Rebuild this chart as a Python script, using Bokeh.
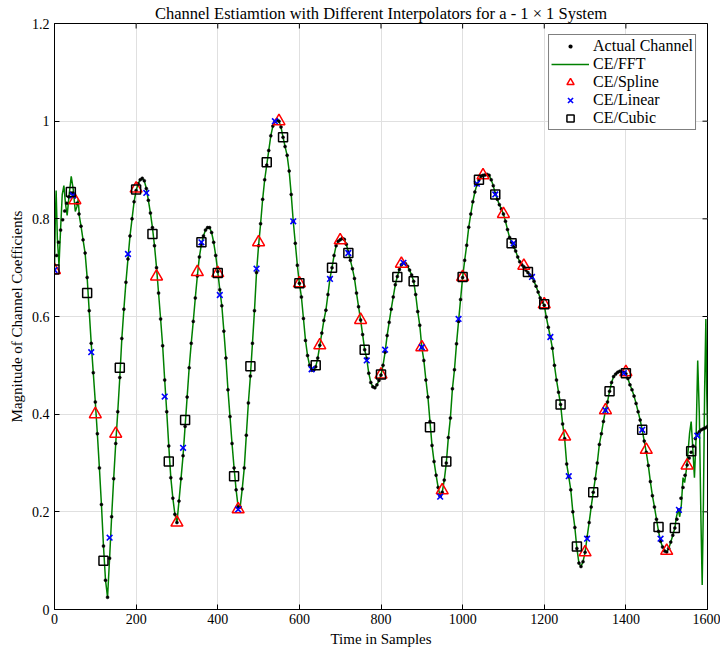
import math
from bokeh.plotting import figure
from bokeh.models import Range1d, FixedTicker, Legend, LegendItem
from bokeh.embed import file_html
from bokeh.resources import INLINE

# ---------------- data ----------------
x_ticks = [0, 200, 400, 600, 800, 1000, 1200, 1400, 1600]
x_tick_labels = ["0", "200", "400", "600", "800", "1000", "1200", "1400", "1600"]
y_ticks = [0, 0.2, 0.4, 0.6, 0.8, 1.0, 1.2]
y_tick_labels = ["0", "0.2", "0.4", "0.6", "0.8", "1", "1.2"]

# actual channel, one value every 5 samples (0 .. 1600)
actual_x = list(range(0, 1601, 5))
actual_y = [
    0.695, 0.725, 0.752, 0.777, 0.798, 0.816, 0.832, 0.845, 0.853, 0.853,
    0.845, 0.832, 0.810, 0.785, 0.757, 0.730, 0.680, 0.612, 0.545, 0.485,
    0.425, 0.360, 0.290, 0.215, 0.130, 0.060, 0.025, 0.105, 0.190, 0.268,
    0.340, 0.405, 0.475, 0.555, 0.615, 0.670, 0.718, 0.765, 0.800, 0.835,
    0.858, 0.872, 0.880, 0.883, 0.878, 0.862, 0.838, 0.812, 0.782, 0.745,
    0.700, 0.648, 0.595, 0.540, 0.470, 0.405, 0.335, 0.270, 0.228, 0.195,
    0.178, 0.222, 0.268, 0.315, 0.375, 0.435, 0.495, 0.545, 0.590, 0.638,
    0.683, 0.722, 0.748, 0.765, 0.777, 0.782, 0.782, 0.772, 0.752, 0.725,
    0.692, 0.655, 0.622, 0.570, 0.515, 0.450, 0.395, 0.340, 0.290, 0.245,
    0.210, 0.210, 0.247, 0.290, 0.357, 0.423, 0.478, 0.545, 0.612, 0.690,
    0.745, 0.790, 0.840, 0.880, 0.910, 0.940, 0.970, 0.990, 0.999, 1.003,
    1.000, 0.988, 0.967, 0.948, 0.930, 0.898, 0.850, 0.795, 0.750, 0.705,
    0.668, 0.640, 0.596, 0.551, 0.520, 0.500, 0.490, 0.490, 0.497, 0.515,
    0.541, 0.566, 0.592, 0.613, 0.645, 0.678, 0.700, 0.725, 0.745, 0.754,
    0.757, 0.760, 0.758, 0.748, 0.732, 0.715, 0.698, 0.678, 0.648, 0.620,
    0.593, 0.563, 0.532, 0.514, 0.484, 0.465, 0.456, 0.454, 0.460, 0.469,
    0.480, 0.500, 0.527, 0.561, 0.588, 0.615, 0.640, 0.665, 0.682, 0.696,
    0.706, 0.710, 0.708, 0.703, 0.695, 0.685, 0.672, 0.645, 0.610, 0.582,
    0.537, 0.510, 0.470, 0.435, 0.385, 0.336, 0.303, 0.275, 0.250, 0.232,
    0.240, 0.265, 0.300, 0.352, 0.392, 0.452, 0.491, 0.544, 0.590, 0.635,
    0.680, 0.715, 0.746, 0.783, 0.810, 0.835, 0.855, 0.870, 0.880, 0.887,
    0.889, 0.890, 0.891, 0.889, 0.880, 0.868, 0.852, 0.840, 0.829, 0.820,
    0.810, 0.795, 0.778, 0.762, 0.752, 0.743, 0.734, 0.722, 0.712, 0.706,
    0.702, 0.695, 0.690, 0.685, 0.680, 0.672, 0.662, 0.650, 0.638, 0.630,
    0.623, 0.599, 0.578, 0.558, 0.535, 0.500, 0.470, 0.445, 0.420, 0.380,
    0.350, 0.298, 0.272, 0.245, 0.200, 0.168, 0.125, 0.095, 0.088, 0.098,
    0.117, 0.148, 0.178, 0.210, 0.240, 0.268, 0.300, 0.338, 0.360, 0.385,
    0.408, 0.425, 0.447, 0.465, 0.477, 0.482, 0.486, 0.488, 0.488, 0.486,
    0.483, 0.473, 0.460, 0.450, 0.437, 0.422, 0.405, 0.388, 0.368, 0.345,
    0.322, 0.295, 0.262, 0.233, 0.210, 0.185, 0.160, 0.140, 0.128, 0.120,
    0.118, 0.125, 0.138, 0.152, 0.167, 0.185, 0.204, 0.228, 0.250, 0.275,
    0.296, 0.310, 0.322, 0.335, 0.350, 0.360, 0.364, 0.368, 0.370, 0.372,
    0.375,
]

# CE/FFT: edge ringing at both ends, follows the channel in between
fft_head_x = [0, 2, 4, 7, 11, 15, 19, 23, 27, 31, 36, 41, 46, 51, 55, 58, 61]
fft_head_y = [0.695, 0.800, 0.858, 0.760, 0.705, 0.780, 0.850, 0.868, 0.830, 0.807,
              0.850, 0.887, 0.860, 0.815, 0.825, 0.840, 0.805]
fft_tail_x = [1520, 1524, 1528, 1532, 1536, 1540, 1544, 1548, 1552, 1556, 1560, 1564,
              1568, 1572, 1576, 1580, 1584, 1587, 1590, 1593, 1596, 1598, 1600]
fft_tail_y = [0.167, 0.190, 0.205, 0.190, 0.215, 0.270, 0.260, 0.285, 0.320, 0.360,
              0.385, 0.330, 0.270, 0.350, 0.510, 0.400, 0.180, 0.050, 0.220, 0.450,
              0.595, 0.450, 0.370]

spline_x = list(range(0, 1551, 50))
spline_y = [0.695, 0.838, 0.400, 0.360, 0.862, 0.682, 0.178, 0.691, 0.689, 0.205,
            0.752, 1.000, 0.668, 0.541, 0.756, 0.593, 0.481, 0.708, 0.537, 0.244,
            0.681, 0.889, 0.810, 0.704, 0.625, 0.354, 0.117, 0.408, 0.486, 0.327,
            0.120, 0.295]

linear_x = list(range(0, 1576, 45))
linear_y = [0.695, 0.848, 0.527, 0.147, 0.728, 0.853, 0.436, 0.331, 0.752, 0.644,
            0.205, 0.698, 1.000, 0.795, 0.492, 0.677, 0.730, 0.510, 0.532, 0.710,
            0.537, 0.231, 0.595, 0.872, 0.850, 0.750, 0.681, 0.558, 0.273, 0.145,
            0.408, 0.484, 0.368, 0.145, 0.204, 0.356]

cubic_x = list(range(0, 1561, 40))
cubic_y = [0.696, 0.855, 0.648, 0.100, 0.495, 0.860, 0.769, 0.303, 0.388, 0.752,
           0.689, 0.273, 0.498, 0.916, 0.967, 0.668, 0.500, 0.700, 0.730, 0.532,
           0.481, 0.681, 0.672, 0.373, 0.303, 0.681, 0.880, 0.850, 0.750, 0.691,
           0.625, 0.420, 0.129, 0.240, 0.447, 0.484, 0.368, 0.169, 0.167, 0.324]

title_text = "Channel Estiamtion with Different Interpolators for a - 1 \u00d7 1 System"
x_label = "Time in Samples"
y_label = "Magnitude of Channel Coefficients"

# ---------------- figure ----------------
FONT = "Liberation Serif"

fft_x = fft_head_x + actual_x[13:304] + fft_tail_x
fft_y = fft_head_y + actual_y[13:304] + fft_tail_y

p = figure(width=720, height=652, output_backend="svg", toolbar_location=None,
           x_range=Range1d(x_ticks[0], x_ticks[-1]), y_range=Range1d(y_ticks[0], y_ticks[-1]),
           min_border_left=54, min_border_right=13, min_border_top=23,
           min_border_bottom=43, title=title_text)
p.background_fill_color = "white"
p.border_fill_color = "white"
p.outline_line_color = "black"
p.outline_line_width = 1

p.title.align = "center"
p.title.text_font = FONT
p.title.text_font_size = "16.5px"
p.title.text_font_style = "normal"
p.title.text_color = "black"
p.title.standoff = 2

def style_axis(ax, ticks, labels):
    ax.ticker = FixedTicker(ticks=ticks)
    ax.major_label_overrides = {t: l for t, l in zip(ticks, labels)}
    ax.major_tick_in = 5
    ax.major_tick_out = 0
    ax.minor_tick_line_color = None
    ax.axis_line_color = "black"
    ax.major_tick_line_color = "black"
    ax.major_label_text_font = FONT
    ax.major_label_text_font_size = "14px"
    ax.major_label_text_color = "black"
    ax.axis_label_text_font = FONT
    ax.axis_label_text_font_size = "15px"
    ax.axis_label_text_font_style = "normal"
    ax.axis_label_text_color = "black"

style_axis(p.xaxis[0], x_ticks, x_tick_labels)
style_axis(p.yaxis[0], y_ticks, y_tick_labels)
p.xaxis[0].axis_label = x_label
p.yaxis[0].axis_label = y_label
p.xaxis[0].major_label_standoff = 4
p.xaxis[0].axis_label_standoff = 4
p.yaxis[0].major_label_standoff = 5
p.yaxis[0].axis_label_standoff = 4

p.xgrid.ticker = FixedTicker(ticks=x_ticks)
p.ygrid.ticker = FixedTicker(ticks=y_ticks)
p.grid.grid_line_color = "#e0e0e0"
p.grid.grid_line_width = 1

# inward tick marks on the top and right edges of the box (clipped to the frame)
p.scatter(x_ticks, [y_ticks[-1]] * len(x_ticks), marker="dash", angle=math.pi / 2,
          size=10, line_color="black", line_width=1)
p.scatter([x_ticks[-1]] * len(y_ticks), y_ticks, marker="dash", angle=0,
          size=10, line_color="black", line_width=1)

r_fft = p.line(fft_x, fft_y, line_color="#008000", line_width=1.5)
r_act = p.scatter(actual_x, actual_y, marker="circle", size=3.0,
                  fill_color="black", line_color="black", line_width=0.5)
r_spl = p.scatter(spline_x, spline_y, marker="triangle", size=12,
                  fill_color=None, line_color="#ff0000", line_width=1.5)
r_lin = p.scatter(linear_x, linear_y, marker="x", size=8,
                  line_color="#0000ff", line_width=1.6)
r_cub = p.scatter(cubic_x, cubic_y, marker="square", size=9,
                  fill_color=None, line_color="black", line_width=1.5)

# legend key for the small channel dot (a white ring shrinks the fixed-size legend disc);
# it has a single NaN point so nothing is drawn in the plot area
r_act_key = p.scatter([float("nan")], [float("nan")], marker="circle", size=3,
                      fill_color="black", line_color="white", line_width=3)

legend = Legend(items=[
    LegendItem(label="Actual Channel", renderers=[r_act_key]),
    LegendItem(label="CE/FFT", renderers=[r_fft]),
    LegendItem(label="CE/Spline", renderers=[r_spl]),
    LegendItem(label="CE/Linear", renderers=[r_lin]),
    LegendItem(label="CE/Cubic", renderers=[r_cub]),
], location="top_right")
legend.margin = 11
legend.padding = 2
legend.spacing = 0
legend.label_height = 18
legend.glyph_height = 18
legend.glyph_width = 38
legend.label_standoff = 4
legend.label_text_font = FONT
legend.label_text_font_size = "16px"
legend.label_text_color = "black"
legend.border_line_color = "black"
legend.border_line_width = 1
legend.background_fill_color = "white"
legend.background_fill_alpha = 1
p.add_layout(legend)

open("out.html", "w").write(file_html(p, INLINE))
